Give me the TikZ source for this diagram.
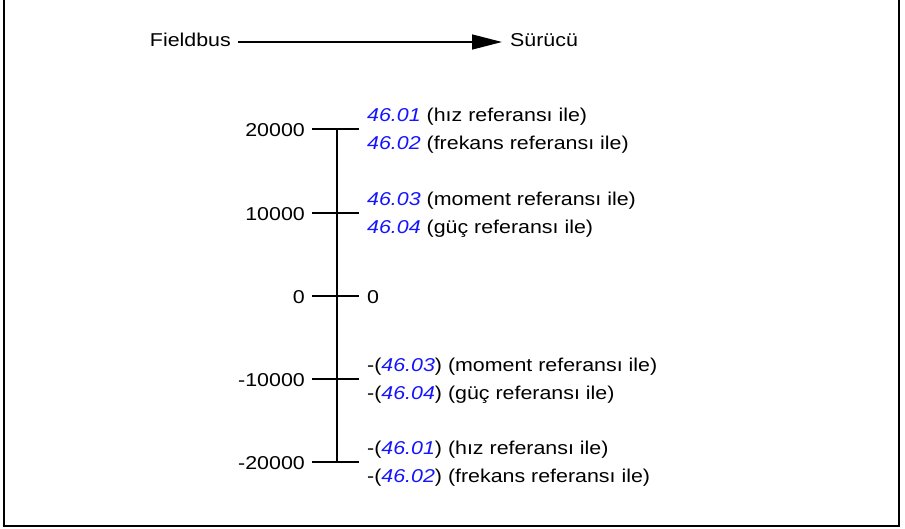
\documentclass[tikz,border=0pt]{standalone}
\usepackage{fontspec}
\setmainfont{Liberation Sans}[FakeStretch=1.15]
\usetikzlibrary{arrows.meta}
\definecolor{refblue}{RGB}{20,20,255}
\newcommand{\refno}[1]{\textcolor{refblue}{\itshape #1}}

\begin{document}
\begin{tikzpicture}[
  x=1pt, y=-1pt,
  lbl/.style = {inner sep=0pt, font=\fontsize{18.6}{22}\selectfont},
  axis/.style = {line width=2pt},
  flow/.style = {-{Triangle[length=30pt,width=15pt]}, line width=1.4pt}]
  \useasboundingbox (0,0) rectangle (905,528);

  % cerceve
  \draw[line width=1.3pt] (4,0) -- (4,526) -- (899,526) -- (899,0);

  % yon
  \node[lbl, anchor=base east] (fb) at (231,46) {Fieldbus};
  \node[lbl, anchor=base west] (drv) at (510,46) {Sürücü};
  \draw[flow, shorten <=7pt, shorten >=8pt] (fb.east |- 0,42) -- (drv.west |- 0,42);

  % eksen ve olcek
  \coordinate (top) at (337,129);
  \coordinate (bot) at (337,462);
  \draw[axis] (top) -- (bot);
  \foreach \i/\yy/\val in {1/129/20000, 2/213/10000, 3/296/0, 4/379/-10000, 5/462/-20000} {
    \node[lbl, anchor=base east] (val\i) at (305,\yy+7) {\val};
    \coordinate (tickL\i) at (312,\yy);
    \coordinate (tickR\i) at (359,\yy);
    \draw[axis] (tickL\i) -- (tickR\i);
  }

  % surucu tarafi
  \node[lbl, anchor=base west] (ra1) at (367,121) {\refno{46.01} (hız referansı ile)};
  \node[lbl, anchor=base west] (rb1) at (367,149) {\refno{46.02} (frekans referansı ile)};
  \node[lbl, anchor=base west] (ra2) at (367,205) {\refno{46.03} (moment referansı ile)};
  \node[lbl, anchor=base west] (rb2) at (367,233) {\refno{46.04} (güç referansı ile)};
  \node[lbl, anchor=base west] (ra3) at (367,303) {0};
  \node[lbl, anchor=base west] (ra4) at (367,371) {-(\refno{46.03}) (moment referansı ile)};
  \node[lbl, anchor=base west] (rb4) at (367,399) {-(\refno{46.04}) (güç referansı ile)};
  \node[lbl, anchor=base west] (ra5) at (367,454) {-(\refno{46.01}) (hız referansı ile)};
  \node[lbl, anchor=base west] (rb5) at (367,482) {-(\refno{46.02}) (frekans referansı ile)};

\end{tikzpicture}
\end{document}
